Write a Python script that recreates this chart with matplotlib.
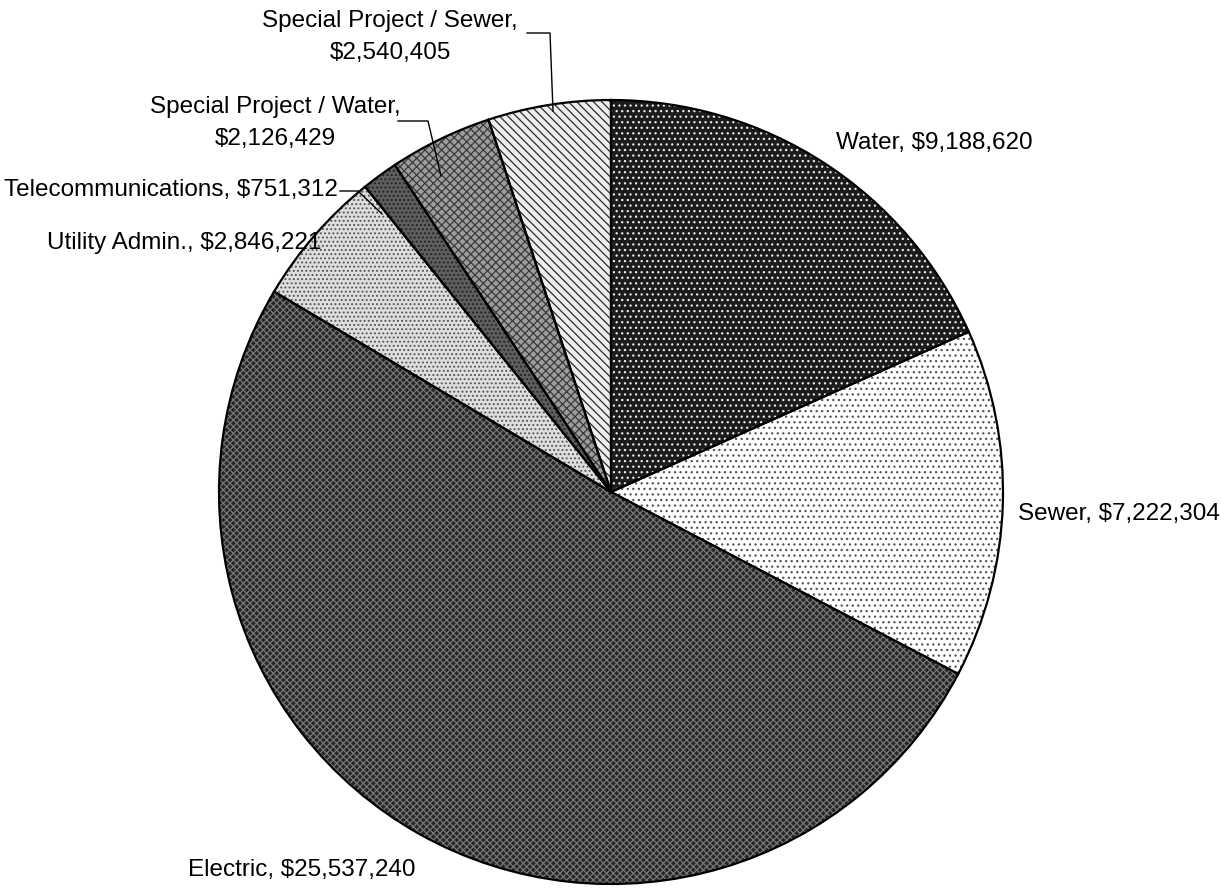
import matplotlib
matplotlib.use("Agg")
import matplotlib.pyplot as plt
from matplotlib.patches import Wedge

categories = ["Water", "Sewer", "Electric", "Utility Admin.", "Telecommunications",
              "Special Project / Water", "Special Project / Sewer"]
values = [9188620, 7222304, 25537240, 2846221, 751312, 2126429, 2540405]

face_colors = ["#1c1c1c", "#ffffff", "#262626", "#dedede", "#5e5e5e", "#9c9c9c", "#eeeeee"]
hatch_colors = ["#e8e8e8", "#555555", "#777777", "#555555", "#222222", "#3a3a3a", "#2a2a2a"]
hatches = ["...", "...", "xxxxx", "....", "....", "xxxx", "\\\\\\\\"]

plt.rcParams['font.family'] = ['Liberation Sans', 'DejaVu Sans']
plt.rcParams['hatch.linewidth'] = 0.9

W, H = 1221, 892
fig = plt.figure(figsize=(W / 100, H / 100), dpi=100)
ax = fig.add_axes([0, 0, 1, 1])

cx, cy, R = 611, H - 492, 392
wedges, _ = ax.pie(values, startangle=90, counterclock=False, radius=R,
                   center=(cx, cy), colors=face_colors,
                   wedgeprops=dict(edgecolor="none", linewidth=0))
for w, hc, h in zip(wedges, hatch_colors, hatches):
    ov = Wedge(w.center, w.r, w.theta1, w.theta2, facecolor="none",
               edgecolor=hc, linewidth=0, hatch=h)
    ax.add_patch(ov)
    ol = Wedge(w.center, w.r, w.theta1, w.theta2, facecolor="none",
               edgecolor="black", linewidth=1.6)
    ax.add_patch(ol)

def fmt(v):
    return "${:,}".format(v)

fs = 17.5
def py(y):
    return H - y

# Water
ax.text(836, py(143), f"{categories[0]}, {fmt(values[0])}", fontsize=fs, ha="left", va="center")
# Sewer
ax.text(1018, py(514), f"{categories[1]}, {fmt(values[1])}", fontsize=fs, ha="left", va="center")
# Electric
ax.text(188, py(870), f"{categories[2]}, {fmt(values[2])}", fontsize=fs, ha="left", va="center")
# Utility Admin
ax.text(321, py(243), f"{categories[3]}, {fmt(values[3])}", fontsize=fs, ha="right", va="center")
# Telecom
ax.text(338, py(190), f"{categories[4]}, {fmt(values[4])}", fontsize=fs, ha="right", va="center")
ax.plot([340, 358, 382], [py(191), py(191), py(214)], color="black", lw=1)
# SP Water
ax.text(275, py(123), f"{categories[5]},\n{fmt(values[5])}", fontsize=fs, ha="center", va="center",
        linespacing=1.6)
ax.plot([398, 428, 441], [py(121), py(121), py(176)], color="black", lw=1)
# SP Sewer
ax.text(390, py(37), f"{categories[6]},\n{fmt(values[6])}", fontsize=fs, ha="center", va="center",
        linespacing=1.6)
ax.plot([527, 550, 553], [py(33), py(33), py(111)], color="black", lw=1)

ax.set_xlim(0, W)
ax.set_ylim(0, H)
ax.set_aspect("auto")
ax.axis("off")
fig.savefig("out.png", dpi=100)
